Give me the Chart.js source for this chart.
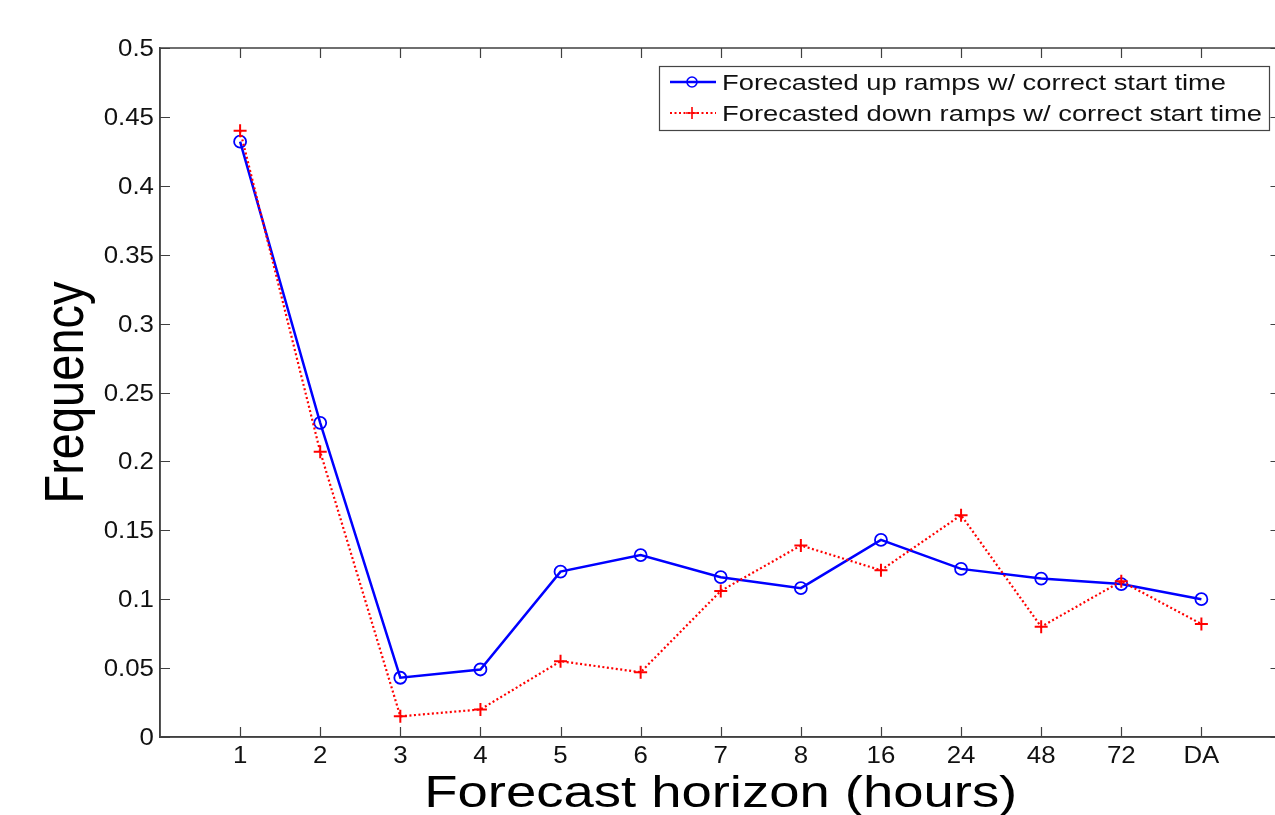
<!DOCTYPE html>
<html>
<head>
<meta charset="utf-8">
<script src="https://cdn.jsdelivr.net/npm/chart.js@4.4.1/dist/chart.umd.min.js"></script>
<style>
  html, body { margin: 0; padding: 0; background: #fff; overflow: hidden; }
  #wrap { width: 1290px; height: 815px; }
</style>
</head>
<body>
<div id="wrap"><canvas id="chart" width="1290" height="815"></canvas></div>
<script>
// Forecast horizons on the x axis
const horizons = ['1', '2', '3', '4', '5', '6', '7', '8', '16', '24', '48', '72', 'DA'];
const upRamps = [0.432, 0.228, 0.043, 0.049, 0.120, 0.132, 0.116, 0.108, 0.143, 0.122, 0.115, 0.111, 0.100];
const downRamps = [0.440, 0.207, 0.015, 0.020, 0.055, 0.047, 0.106, 0.139, 0.121, 0.161, 0.080, 0.113, 0.082];
const yTicks = [0, 0.05, 0.1, 0.15, 0.2, 0.25, 0.3, 0.35, 0.4, 0.45, 0.5];
const yTickLabels = ['0', '0.05', '0.1', '0.15', '0.2', '0.25', '0.3', '0.35', '0.4', '0.45', '0.5'];

const FONT = '"Liberation Sans", Arial, sans-serif';
const AXIS = '#404040';

const toPoints = vals => vals.map((v, i) => ({ x: i + 1, y: v }));

// text that is a bit wider than the font (the original figure is stretched sideways)
function wideText(ctx, text, x, y, size, sx, align, width) {
    ctx.save();
    ctx.font = size + 'px ' + FONT;
    if (width) sx = width / ctx.measureText(text).width;
    ctx.translate(x, y);
    ctx.scale(sx, 1);
    ctx.textAlign = align;
    ctx.textBaseline = 'alphabetic';
    ctx.fillText(text, 0, 0);
    ctx.restore();
}

// MATLAB style box, inward ticks, labels and legend
const boxPlugin = {
    id: 'box',
    afterDraw(chart) {
        const { ctx, chartArea: a, scales } = chart;
        ctx.save();
        ctx.strokeStyle = AXIS;
        ctx.lineWidth = 1.5;
        ctx.strokeRect(a.left, a.top, a.right - a.left, a.bottom - a.top);
        ctx.lineWidth = 1.2;
        ctx.beginPath();
        horizons.forEach((h, i) => {
            const x = Math.round(scales.x.getPixelForValue(i + 1)) + 0.5;
            ctx.moveTo(x, a.bottom); ctx.lineTo(x, a.bottom - 10);
            ctx.moveTo(x, a.top); ctx.lineTo(x, a.top + 10);
        });
        yTicks.forEach(t => {
            const y = Math.round(scales.y.getPixelForValue(t)) + 0.5;
            ctx.moveTo(a.left, y); ctx.lineTo(a.left + 10, y);
            ctx.moveTo(a.right, y); ctx.lineTo(a.right - 11, y);
        });
        ctx.stroke();

        // tick labels
        ctx.fillStyle = '#111';
        yTicks.forEach((t, i) => {
            const y = scales.y.getPixelForValue(t);
            wideText(ctx, yTickLabels[i], 154, y + 8, 23.5, 1.1, 'right');
        });
        horizons.forEach((h, i) => {
            const x = scales.x.getPixelForValue(i + 1);
            wideText(ctx, h, x, 763, 23.5, 1.1, 'center');
        });

        // axis titles
        ctx.fillStyle = '#000';
        wideText(ctx, 'Forecast horizon (hours)', (a.left + a.right) / 2, 807, 45, 1, 'center', 593);
        ctx.save();
        ctx.font = '47px ' + FONT;
        ctx.translate(83, (a.top + a.bottom) / 2);
        ctx.rotate(-Math.PI / 2);
        ctx.scale(1, 1.18);
        ctx.textAlign = 'center';
        ctx.textBaseline = 'alphabetic';
        ctx.fillText('Frequency', 0, 0);
        ctx.restore();

        // legend
        const lx = 659, ly = 66, lw = 610, lh = 64;
        ctx.fillStyle = '#fff';
        ctx.fillRect(lx, ly, lw, lh);
        ctx.strokeStyle = '#444';
        ctx.lineWidth = 1.2;
        ctx.strokeRect(lx + 0.5, ly + 0.5, lw, lh);
        const legendWidths = [504, 540];
        chart.data.datasets.forEach((ds, i) => {
            const y = ly + 16 + i * 31;
            ctx.strokeStyle = ds.borderColor;
            ctx.lineWidth = ds.borderWidth;
            ctx.setLineDash(ds.borderDash || []);
            ctx.beginPath();
            ctx.moveTo(lx + 11, y); ctx.lineTo(lx + 57, y);
            ctx.stroke();
            ctx.setLineDash([]);
            ctx.lineWidth = 1.6;
            ctx.beginPath();
            if (ds.pointStyle === 'circle') {
                ctx.arc(lx + 33, y, 5, 0, Math.PI * 2);
            } else {
                ctx.moveTo(lx + 27, y); ctx.lineTo(lx + 39, y);
                ctx.moveTo(lx + 33, y - 6); ctx.lineTo(lx + 33, y + 6);
            }
            ctx.stroke();
            ctx.fillStyle = '#111';
            wideText(ctx, ds.label, 722, y + 8, 22, 1, 'left', legendWidths[i]);
        });
        ctx.restore();
    }
};

new Chart(document.getElementById('chart'), {
    type: 'line',
    data: {
        datasets: [{
            label: 'Forecasted up ramps w/ correct start time',
            data: toPoints(upRamps),
            borderColor: '#0000ff',
            backgroundColor: 'rgba(0,0,0,0)',
            borderWidth: 2.5,
            pointStyle: 'circle',
            pointRadius: 6,
            pointBorderWidth: 1.8,
            tension: 0,
            order: 1
        }, {
            label: 'Forecasted down ramps w/ correct start time',
            data: toPoints(downRamps),
            borderColor: '#ff0000',
            backgroundColor: 'rgba(0,0,0,0)',
            borderWidth: 2.2,
            borderDash: [2, 2.5],
            pointStyle: 'cross',
            pointRadius: 6.5,
            pointBorderWidth: 2,
            tension: 0,
            order: 0
        }]
    },
    options: {
        responsive: false,
        animation: false,
        layout: { padding: { top: 48, right: 5, left: 0, bottom: 0 } },
        plugins: { legend: { display: false }, tooltip: { enabled: false } },
        scales: {
            x: {
                type: 'linear',
                min: 0,
                max: 14,
                afterBuildTicks: s => { s.ticks = horizons.map((h, i) => ({ value: i + 1 })); },
                afterFit: s => { s.height = 78; },
                grid: { display: false },
                border: { color: AXIS, width: 1.5 },
                ticks: { display: false }
            },
            y: {
                min: 0,
                max: 0.5,
                afterBuildTicks: s => { s.ticks = yTicks.map(v => ({ value: v })); },
                afterFit: s => { s.width = 160; },
                grid: { display: false },
                border: { color: AXIS, width: 1.5 },
                ticks: { display: false }
            }
        }
    },
    plugins: [boxPlugin]
});
</script>
</body>
</html>
